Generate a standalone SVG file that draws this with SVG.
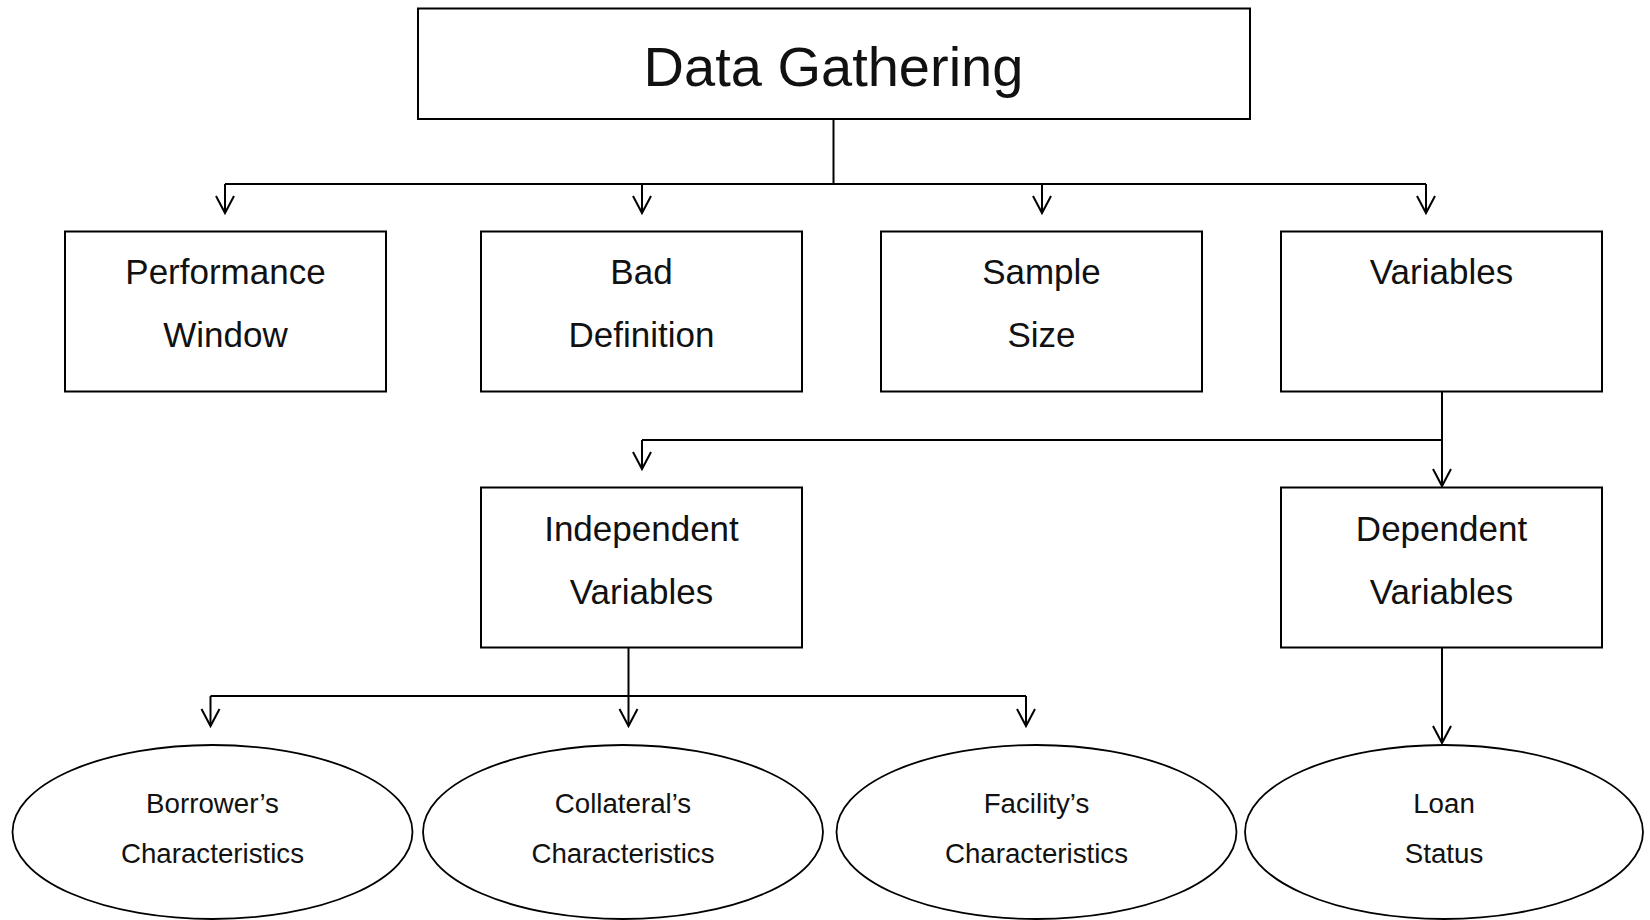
<svg xmlns="http://www.w3.org/2000/svg" width="1650" height="920" viewBox="0 0 1650 920">
  <style>
    .box { fill: #ffffff; stroke: #000000; stroke-width: 2; }
    .oval { fill: #ffffff; stroke: #000000; stroke-width: 1.8; }
    .wire { fill: none; stroke: #000000; stroke-width: 2; }
    .label { font-family: "Liberation Sans", Arial, sans-serif; fill: #111111; text-anchor: middle; }
    .title { font-size: 56px; }
    .mid { font-size: 35px; }
    .small { font-size: 27.7px; }
  </style>
  <defs>
    <marker id="head" markerUnits="userSpaceOnUse" markerWidth="24" markerHeight="24" viewBox="-18 -12 20 24" refX="0" refY="0" orient="auto">
      <path d="M -17 -9 L 0 0 L -17 9" fill="none" stroke="#000000" stroke-width="2"/>
    </marker>
  </defs>

  <rect width="1650" height="920" fill="#ffffff"/>

  <!-- connectors -->
  <g id="connectors">
    <line class="wire" x1="833.5" y1="119" x2="833.5" y2="184" stroke-width="1.5"/>
    <line class="wire" x1="225" y1="184" x2="1426" y2="184"/>
    <line class="wire" x1="225" y1="184" x2="225" y2="213" marker-end="url(#head)"/>
    <line class="wire" x1="642" y1="184" x2="642" y2="213" marker-end="url(#head)"/>
    <line class="wire" x1="1042" y1="184" x2="1042" y2="213" marker-end="url(#head)"/>
    <line class="wire" x1="1426" y1="184" x2="1426" y2="213" marker-end="url(#head)"/>

    <line class="wire" x1="1442" y1="392" x2="1442" y2="486" marker-end="url(#head)"/>
    <line class="wire" x1="642" y1="440" x2="1442" y2="440"/>
    <line class="wire" x1="642" y1="440" x2="642" y2="469" marker-end="url(#head)"/>

    <line class="wire" x1="628.5" y1="648" x2="628.5" y2="696"/>
    <line class="wire" x1="210.5" y1="696" x2="1026" y2="696"/>
    <line class="wire" x1="210.5" y1="696" x2="210.5" y2="726" marker-end="url(#head)"/>
    <line class="wire" x1="628.5" y1="696" x2="628.5" y2="726" marker-end="url(#head)"/>
    <line class="wire" x1="1026" y1="696" x2="1026" y2="726" marker-end="url(#head)"/>

    <line class="wire" x1="1442" y1="648" x2="1442" y2="743" marker-end="url(#head)"/>
  </g>

  <!-- root -->
  <g id="data-gathering">
    <rect class="box" x="418" y="8.5" width="832" height="110.5"/>
    <text class="label title" x="833.5" y="86">Data Gathering</text>
  </g>

  <!-- second level -->
  <g id="performance-window">
    <rect class="box" x="65" y="231.5" width="321" height="160"/>
    <text class="label mid" x="225.5" y="284">Performance</text>
    <text class="label mid" x="225.5" y="347">Window</text>
  </g>
  <g id="bad-definition">
    <rect class="box" x="481" y="231.5" width="321" height="160"/>
    <text class="label mid" x="641.5" y="284">Bad</text>
    <text class="label mid" x="641.5" y="347">Definition</text>
  </g>
  <g id="sample-size">
    <rect class="box" x="881" y="231.5" width="321" height="160"/>
    <text class="label mid" x="1041.5" y="284">Sample</text>
    <text class="label mid" x="1041.5" y="347">Size</text>
  </g>
  <g id="variables">
    <rect class="box" x="1281" y="231.5" width="321" height="160"/>
    <text class="label mid" x="1441.5" y="284">Variables</text>
  </g>

  <!-- third level -->
  <g id="independent-variables">
    <rect class="box" x="481" y="487.5" width="321" height="160"/>
    <text class="label mid" x="641.5" y="541">Independent</text>
    <text class="label mid" x="641.5" y="604">Variables</text>
  </g>
  <g id="dependent-variables">
    <rect class="box" x="1281" y="487.5" width="321" height="160"/>
    <text class="label mid" x="1441.5" y="541">Dependent</text>
    <text class="label mid" x="1441.5" y="604">Variables</text>
  </g>

  <!-- leaves -->
  <g id="borrowers-characteristics">
    <ellipse class="oval" cx="212.5" cy="832" rx="200" ry="87"/>
    <text class="label small" x="212.5" y="812.5">Borrower’s</text>
    <text class="label small" x="212.5" y="862.5">Characteristics</text>
  </g>
  <g id="collaterals-characteristics">
    <ellipse class="oval" cx="623" cy="832" rx="200" ry="87"/>
    <text class="label small" x="623" y="812.5">Collateral’s</text>
    <text class="label small" x="623" y="862.5">Characteristics</text>
  </g>
  <g id="facilitys-characteristics">
    <ellipse class="oval" cx="1036.5" cy="832" rx="200" ry="87"/>
    <text class="label small" x="1036.5" y="812.5">Facility’s</text>
    <text class="label small" x="1036.5" y="862.5">Characteristics</text>
  </g>
  <g id="loan-status">
    <ellipse class="oval" cx="1444" cy="832" rx="199" ry="87"/>
    <text class="label small" x="1444" y="812.5">Loan</text>
    <text class="label small" x="1444" y="862.5">Status</text>
  </g>
</svg>
